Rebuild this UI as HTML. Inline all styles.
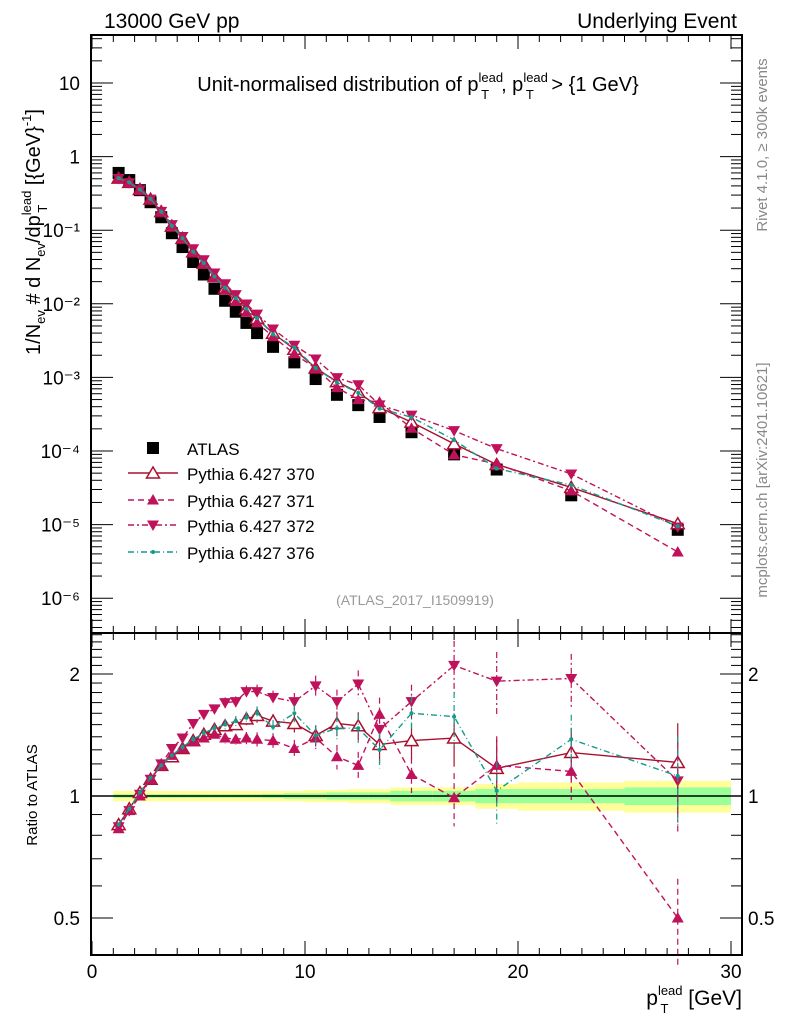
<!DOCTYPE html>
<html><head><meta charset="utf-8"><style>
html,body{margin:0;padding:0;background:#fff}
svg{display:block;font-family:"Liberation Sans",sans-serif}
</style></head><body>
<svg id="chart" width="786" height="1024" viewBox="0 0 786 1024" xmlns="http://www.w3.org/2000/svg">
<g>
<text x="104" y="28" font-size="21">13000 GeV pp</text>
<text x="737" y="28" font-size="21" text-anchor="end">Underlying Event</text>
</g>
<text x="418" y="91" font-size="20" text-anchor="middle">Unit-normalised distribution of p<tspan font-size="13" dy="-9">lead</tspan><tspan font-size="13" dx="-22" dy="17">T</tspan><tspan dy="-8" dx="12">, p</tspan><tspan font-size="13" dy="-9">lead</tspan><tspan font-size="13" dx="-22" dy="17">T</tspan><tspan dy="-8" dx="12"> &gt; {1 GeV}</tspan></text>
<text transform="translate(767,145) rotate(-90)" font-size="15" fill="#888" text-anchor="middle">Rivet 4.1.0, ≥ 300k events</text>
<text transform="translate(767,480) rotate(-90)" font-size="15" fill="#888" text-anchor="middle">mcplots.cern.ch [arXiv:2401.10621]</text>
<text transform="translate(40,232) rotate(-90)" font-size="20" text-anchor="middle">1/N<tspan font-size="13" dy="5">ev</tspan><tspan dy="-5"> # d N</tspan><tspan font-size="13" dy="5">ev</tspan><tspan dy="-5">/dp</tspan><tspan font-size="13" dy="-9">lead</tspan><tspan font-size="13" dx="-22" dy="16">T</tspan><tspan dy="-7" dx="14"> [{GeV}</tspan><tspan font-size="13" dy="-9">-1</tspan><tspan dy="9">]</tspan></text>
<text transform="translate(37,795) rotate(-90)" font-size="15" text-anchor="middle">Ratio to ATLAS</text>
<text x="742" y="1005" font-size="21" text-anchor="end">p<tspan font-size="13" dy="-10">lead</tspan><tspan font-size="13" dx="-22" dy="18">T</tspan><tspan dy="-8" dx="14"> [GeV]</tspan></text>
<text x="415" y="605" font-size="14" fill="#999" text-anchor="middle">(ATLAS_2017_I1509919)</text>
<g id="bands"></g>
<g id="marks"></g>
<g id="axes"></g>
<g id="legend"></g>
</svg>
<script>
const binLo=[1,1.5,2,2.5,3,3.5,4,4.5,5,5.5,6,6.5,7,7.5,8,9,10,11,12,13,14,16,18,20,25];
const binHi=[1.5,2,2.5,3,3.5,4,4.5,5,5.5,6,6.5,7,7.5,8,9,10,11,12,13,14,16,18,20,25,30];
const atlas=[0.60,0.48,0.35,0.24,0.15,0.091,0.059,0.037,0.025,0.016,0.011,0.0078,0.0055,0.0040,0.0026,0.0016,0.00095,0.00058,0.00042,0.00029,0.00018,0.000090,0.000056,0.000025,0.0000085];
const r370=[0.85,0.93,1.02,1.1,1.19,1.25,1.31,1.37,1.42,1.46,1.49,1.5,1.55,1.58,1.53,1.51,1.41,1.51,1.49,1.34,1.37,1.39,1.17,1.28,1.21];
const r371=[0.83,0.92,1.0,1.1,1.19,1.26,1.31,1.36,1.39,1.42,1.39,1.38,1.39,1.38,1.37,1.31,1.39,1.25,1.19,1.59,1.13,0.99,1.19,1.15,0.5];
const r372=[0.84,0.92,1.01,1.1,1.2,1.31,1.39,1.51,1.59,1.64,1.70,1.71,1.81,1.81,1.75,1.71,1.87,1.71,1.89,1.46,1.71,2.1,1.92,1.95,1.09];
const r376=[0.85,0.93,1.02,1.11,1.19,1.26,1.32,1.38,1.43,1.47,1.50,1.53,1.56,1.6,1.48,1.6,1.41,1.47,1.47,1.3,1.6,1.57,1.03,1.38,1.12];
const mcErr=[0.01,0.01,0.01,0.01,0.01,0.012,0.015,0.02,0.02,0.025,0.03,0.03,0.035,0.04,0.04,0.05,0.06,0.07,0.08,0.1,0.1,0.15,0.18,0.15,0.25];
const bandTot=[0.03,0.03,0.03,0.03,0.03,0.03,0.03,0.03,0.03,0.03,0.03,0.03,0.03,0.03,0.03,0.03,0.035,0.035,0.04,0.04,0.05,0.05,0.07,0.08,0.09];
const bandStat=[0.01,0.01,0.01,0.01,0.01,0.01,0.01,0.01,0.01,0.01,0.01,0.01,0.01,0.01,0.012,0.015,0.015,0.02,0.02,0.02,0.03,0.03,0.04,0.04,0.05];
const xTicks=[0,10,20,30];
const yTickExp=[-6,-5,-4,-3,-2,-1,0,1];
const yTickLabels=["10\u207B\u2076","10\u207B\u2075","10\u207B\u2074","10\u207B\u00B3","10\u207B\u00B2","10\u207B\u00B9","1","10"];
const rTicks=[0.5,1,2];
const seriesNames=["ATLAS","Pythia 6.427 370","Pythia 6.427 371","Pythia 6.427 372","Pythia 6.427 376"];

const NS="http://www.w3.org/2000/svg";
const L=91,R=742,T=35,MB=633,RB=955;
const X=v=>92+v*21.3;
const Y=v=>83-(Math.log10(v)-1)*73.6;
const RY=v=>796-Math.log2(v)*122;
function mk(parent,tag,attrs){const e=document.createElementNS(NS,tag);for(const k in attrs)e.setAttribute(k,attrs[k]);parent.appendChild(e);return e;}
const bands=document.getElementById('bands'),marks=document.getElementById('marks'),axes=document.getElementById('axes'),legend=document.getElementById('legend');
const centers=binLo.map((l,i)=>(l+binHi[i])/2);

binLo.forEach((l,i)=>{
 let r=mk(bands,'rect',{x:X(l),y:RY(1+bandTot[i]),width:X(binHi[i])-X(l),height:RY(1-bandTot[i])-RY(1+bandTot[i]),fill:'#ffff99'});
 
 
 let g=mk(bands,'rect',{x:X(l),y:RY(1+bandStat[i]),width:X(binHi[i])-X(l),height:RY(1-bandStat[i])-RY(1+bandStat[i]),fill:'#99ff99'});
 
 
});
let one=mk(bands,'line',{x1:L,x2:R,y1:RY(1),y2:RY(1),stroke:'#000','stroke-width':1.5});



function marker(g,type,x,y,col){
 let e;
 if(type==='up') e=mk(g,'polygon',{points:`${x},${y-6} ${x-6},${y+4.5} ${x+6},${y+4.5}`,fill:col});
 else if(type==='open') e=mk(g,'polygon',{points:`${x},${y-6} ${x-6.5},${y+5} ${x+6.5},${y+5}`,fill:'#fff',stroke:col,'stroke-width':1.5});
 else if(type==='down') e=mk(g,'polygon',{points:`${x},${y+6} ${x-6},${y-4.5} ${x+6},${y-4.5}`,fill:col});
 else if(type==='dot') e=mk(g,'circle',{cx:x,cy:y,r:2,fill:col});
 else e=mk(g,'rect',{x:x-6,y:y-6,width:12,height:12,fill:col});
 return e;
}
const series=[
 {name:'pythia-370',r:r370,col:'#a8102e',dash:'',type:'open'},
 {name:'pythia-371',r:r371,col:'#c0125a',dash:'6,4',type:'up'},
 {name:'pythia-372',r:r372,col:'#c0125a',dash:'6,3,2,3',type:'down'},
 {name:'pythia-376',r:r376,col:'#139c8c',dash:'6,3,1,3',type:'dot'}
];
const ag=mk(marks,'g',{});


centers.forEach((c,i)=>{
 const m=marker(ag,'sq',X(c),Y(atlas[i]),'#000');
 
 
});
series.forEach(s=>{
 const g=mk(marks,'g',{});
 
 
 const mainPts=centers.map((c,i)=>[X(c),Y(atlas[i]*s.r[i])]);
 const ratPts=centers.map((c,i)=>[X(c),RY(s.r[i])]);
 const attrs={fill:'none',stroke:s.col,'stroke-width':1.4};
 if(s.dash)attrs['stroke-dasharray']=s.dash;
 const pl=mk(g,'polyline',Object.assign({points:mainPts.map(p=>p.join(',')).join(' ')},attrs));
 
 
 const pr=mk(g,'polyline',Object.assign({points:ratPts.map(p=>p.join(',')).join(' ')},attrs));
 
 
 centers.forEach((c,i)=>{
  const v=s.r[i],e=mcErr[i];
  const eb=mk(g,'line',{x1:X(c),x2:X(c),y1:RY(v*(1+e)),y2:RY(Math.max(v*(1-e),0.01)),stroke:s.col,'stroke-width':1.2,'stroke-dasharray':s.dash||'none'});
  
  
  const m1=marker(g,s.type,X(c),Y(atlas[i]*v),s.col);
  
  
  const m2=marker(g,s.type,X(c),RY(v),s.col);
  
  
 });
});

[[T,MB],[MB,RB]].forEach(([a,b])=>{
 const f=mk(axes,'rect',{x:L,y:a,width:R-L,height:b-a,fill:'none',stroke:'#000','stroke-width':2});
 
 
});
for(let v=0;v<=30;v++){
 const len=v%10===0?14:7;
 [[T,1],[MB,-1],[MB,1],[RB,-1]].forEach(([y,d])=>{
  const t=mk(axes,'line',{x1:X(v),x2:X(v),y1:y,y2:y+d*len,stroke:'#000','stroke-width':1});
  
  
 });
}
xTicks.forEach(v=>{
 const t=mk(axes,'text',{x:X(v),y:978,'font-size':19,'text-anchor':'middle'});t.textContent=v;
 
 
});
for(let e=-7;e<=1;e++){for(let k=1;k<10;k++){
 const v=k*Math.pow(10,e),y=Y(v);if(y<T||y>MB)continue;
 const len=k===1?22:11;
 [[L,1],[R,-1]].forEach(([x,d])=>{
  const t=mk(axes,'line',{x1:x,x2:x+d*len,y1:y,y2:y,stroke:'#000','stroke-width':1});
  
  
 });
}}
yTickExp.forEach((e,i)=>{
 const t=mk(axes,'text',{x:80,y:Y(Math.pow(10,e))+7,'font-size':19,'text-anchor':'end'});t.textContent=yTickLabels[i];
 
 
});
[0.4,0.5,0.6,0.7,0.8,0.9,1,1.1,1.2,1.3,1.4,1.5,1.6,1.7,1.8,1.9,2,2.1,2.2,2.3,2.4,2.5].forEach(v=>{
 const y=RY(v);if(y<MB||y>RB)return;
 const len=(v===0.5||v===1||v===2)?22:11;
 [[L,1],[R,-1]].forEach(([x,d])=>{
  const t=mk(axes,'line',{x1:x,x2:x+d*len,y1:y,y2:y,stroke:'#000','stroke-width':1});
  
  
 });
});
rTicks.forEach(v=>{
 [[80,'end'],[748,'start']].forEach(([x,a])=>{
  const t=mk(axes,'text',{x:x,y:RY(v)+7,'font-size':19,'text-anchor':a});t.textContent=v;
  
  
 });
});
const ly=[448,473,500,525,552];
const lt=['sq','open','up','down','dot'];
const lc=['#000','#a8102e','#c0125a','#c0125a','#139c8c'];
const ld=['','','6,4','6,3,2,3','6,3,1,3'];
seriesNames.forEach((n,i)=>{
 const g=mk(legend,'g',{});
 
 
 if(i>0){const a={x1:128,x2:178,y1:ly[i],y2:ly[i],stroke:lc[i],'stroke-width':1.4};if(ld[i])a['stroke-dasharray']=ld[i];mk(g,'line',a);}
 marker(g,lt[i],153,ly[i],lc[i]);
 const t=mk(g,'text',{x:187,y:ly[i]+7,'font-size':17});t.textContent=n;
});
</script>
</body></html>
